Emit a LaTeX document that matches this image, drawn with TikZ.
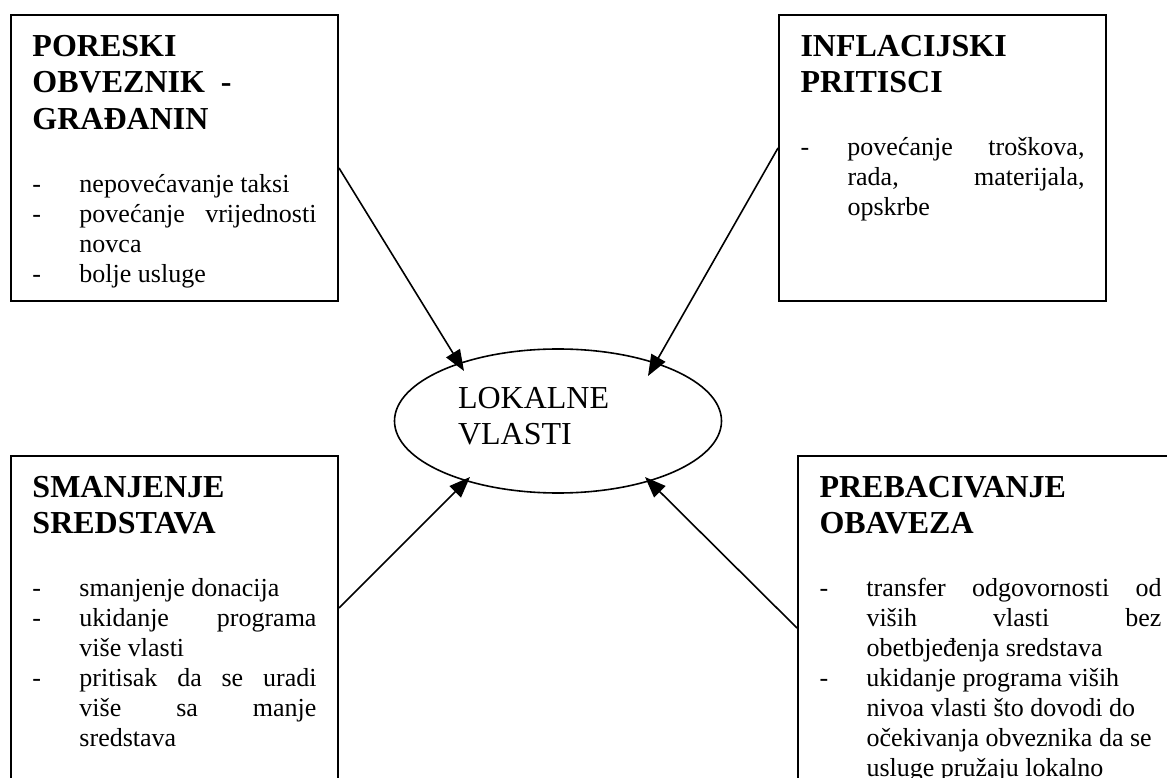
\documentclass[tikz,border=0pt]{standalone}
\usepackage{fontspec}
\setmainfont{Liberation Serif}
\usetikzlibrary{arrows.meta,shapes.geometric}

% naslov okvira i prelaz na tekst stavki
\newcommand{\naslov}[1]{\noindent{\fontsize{16}{18.4}\selectfont\bfseries #1\par}%
  \vspace{16.5pt}\fontsize{13}{15}\selectfont\tolerance=10000\hyphenpenalty=10000\parskip=0pt}
% stavka s crticom
\newcommand{\stavka}{\par\noindent\hangindent=23.5pt\hangafter=1\makebox[23.5pt][l]{-}\ignorespaces}

\begin{document}
\begin{tikzpicture}[x=0.5pt, y=0.5pt,
    okvir/.style={draw, line width=1pt, anchor=north west, inner xsep=10.75pt, inner ysep=10pt},
    strelica/.style={line width=0.8pt, -{Triangle[length=10.5pt, width=8pt]}}]

  \useasboundingbox (0,0) rectangle (1167,777);
  \clip (0,0) rectangle (1167,777);

  % ==========================================
  % Lokalne vlasti (sredina)
  % ==========================================
  \node[draw, ellipse, line width=0.8pt, minimum width=163.5pt, minimum height=72pt, inner sep=0pt,
        text width=100pt, align=left, font=\fontsize{16}{18.4}\selectfont] (lok) at (558,356)
        {LOKALNE\\VLASTI\rule[-5pt]{0pt}{0pt}};

  % ==========================================
  % Okviri
  % ==========================================
  % Gore lijevo
  \node[okvir] (porez) at (10,763) {\begin{minipage}[t][123pt][t]{142pt}
      \naslov{PORESKI\\OBVEZNIK\ \ -\\GRAĐANIN}
      \stavka nepovećavanje taksi
      \stavka povećanje vrijednosti\linebreak novca
      \stavka bolje usluge
    \end{minipage}};

  % Gore desno
  \node[okvir] (infl) at (778,763) {\begin{minipage}[t][123pt][t]{142pt}
      \naslov{INFLACIJSKI\\PRITISCI}
      \stavka povećanje troškova,\linebreak rada, materijala,\linebreak opskrbe
    \end{minipage}};

  % Dolje lijevo
  \node[okvir] (sred) at (10,322) {\begin{minipage}[t][200pt][t]{142pt}
      \naslov{SMANJENJE\\SREDSTAVA}
      \stavka smanjenje donacija
      \stavka ukidanje programa\linebreak više vlasti
      \stavka pritisak da se uradi\linebreak više sa manje\linebreak sredstava
    \end{minipage}};

  % Dolje desno
  \node[okvir] (preb) at (797,322) {\begin{minipage}[t][200pt][t]{171pt}
      \naslov{PREBACIVANJE\\OBAVEZA}
      \stavka transfer odgovornosti od\linebreak viših vlasti bez\linebreak obetbjeđenja sredstava
      \stavka ukidanje programa viših\\nivoa vlasti što dovodi do\\očekivanja obveznika da se\\usluge pružaju lokalno
    \end{minipage}};

  % Strelice prema elipsi
  \draw[strelica] ([yshift=-77pt]porez.north east) -- ([shift={(-94,50)}]lok.center);
  \draw[strelica] ([yshift=-67pt]infl.north west) -- ([shift={(90,45)}]lok.center);
  \draw[strelica] ([yshift=-76.5pt]sred.north east) -- ([shift={(-88,-56)}]lok.center);
  \draw[strelica] ([yshift=-86.5pt]preb.north west) -- ([shift={(87,-56)}]lok.center);

\end{tikzpicture}
\end{document}
